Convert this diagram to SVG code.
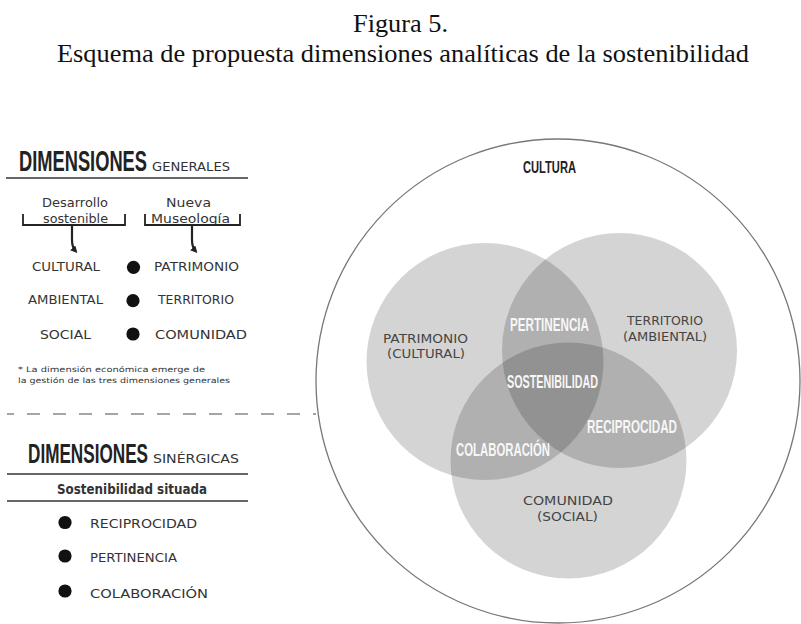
<svg xmlns="http://www.w3.org/2000/svg" width="801" height="624" viewBox="0 0 801 624">
<style>
.title{font-family:"Liberation Serif","Times New Roman",serif;font-size:26px;fill:#111}
.cond{font-family:"Liberation Sans",Arial,sans-serif;font-weight:bold}
.big{fill:#222;font-size:30px}
.big2{fill:#222;font-size:28px}
.geo{font-family:"DejaVu Sans","Liberation Sans",sans-serif;fill:#333}
.lbl{font-size:12.5px}
.sub{font-size:11.5px;fill:#333}
.note{font-size:7.5px}
.vl{font-family:"DejaVu Sans","Liberation Sans",sans-serif;fill:#444;font-size:13px}
.wl{fill:#f7f7f7;font-size:19px}
.dot{fill:#111}
.venn{fill:#000;fill-opacity:0.17}
.rule{stroke:#333;stroke-width:1.7}
.brk{fill:none;stroke:#222;stroke-width:1.8}
.arr{fill:none;stroke:#222;stroke-width:2.2}
</style>
<defs>
<marker id="ah" viewBox="0 0 10 10" refX="6" refY="5" markerWidth="3.2" markerHeight="3.2" orient="auto">
<path d="M0,0 L10,5 L0,10 z" fill="#222"/>
</marker>
</defs>
<rect width="801" height="624" fill="#fff"/>

<g id="title">
<text class="title" x="400.5" y="32" text-anchor="middle" textLength="95" lengthAdjust="spacingAndGlyphs">Figura 5.</text>
<text class="title" x="57" y="62" textLength="692" lengthAdjust="spacingAndGlyphs">Esquema de propuesta dimensiones analíticas de la sostenibilidad</text>
</g>

<g id="dim-generales">
<text class="cond big" transform="translate(19,171) scale(0.61,1)" textLength="209.8" lengthAdjust="spacingAndGlyphs">DIMENSIONES</text>
<text class="geo sub" x="152" y="171" textLength="78" lengthAdjust="spacingAndGlyphs">GENERALES</text>
<line class="rule" x1="6" y1="178" x2="248" y2="178"/>
</g>

<g id="desarrollo">
<text class="geo lbl" x="42" y="207" textLength="66" lengthAdjust="spacingAndGlyphs">Desarrollo</text>
<text class="geo lbl" x="43" y="222.5" textLength="65" lengthAdjust="spacingAndGlyphs">sostenible</text>
<path class="brk" d="M23,214 V225 H125 V214"/>
</g>
<g id="nueva-museologia">
<text class="geo lbl" x="166" y="207" textLength="45" lengthAdjust="spacingAndGlyphs">Nueva</text>
<text class="geo lbl" x="151" y="222.5" textLength="79" lengthAdjust="spacingAndGlyphs">Museología</text>
<path class="brk" d="M145,214 V225 H240 V214"/>
</g>

<g id="connectors">
<path class="arr" d="M72,225 V240 Q72,247 75.5,251" marker-end="url(#ah)"/>
<path class="arr" d="M192,225 V240 Q192,247 195.5,251" marker-end="url(#ah)"/>
<line x1="7" y1="414" x2="316" y2="414" stroke="#888" stroke-width="1.4" stroke-dasharray="13 13" stroke-dashoffset="6"/>
</g>

<g id="row-cultural">
<text class="geo lbl" x="32" y="271" textLength="68" lengthAdjust="spacingAndGlyphs">CULTURAL</text>
<circle class="dot" cx="133.5" cy="267.3" r="6.6"/>
<text class="geo lbl" x="154" y="271" textLength="85" lengthAdjust="spacingAndGlyphs">PATRIMONIO</text>
</g>
<g id="row-ambiental">
<text class="geo lbl" x="28" y="304.3" textLength="75" lengthAdjust="spacingAndGlyphs">AMBIENTAL</text>
<circle class="dot" cx="133" cy="300.7" r="6.6"/>
<text class="geo lbl" x="158" y="304.3" textLength="76" lengthAdjust="spacingAndGlyphs">TERRITORIO</text>
</g>
<g id="row-social">
<text class="geo lbl" x="40" y="339" textLength="51" lengthAdjust="spacingAndGlyphs">SOCIAL</text>
<circle class="dot" cx="133" cy="334" r="6.6"/>
<text class="geo lbl" x="155" y="339" textLength="92" lengthAdjust="spacingAndGlyphs">COMUNIDAD</text>
</g>

<g id="nota">
<text class="geo note" x="18" y="371.8" textLength="187" lengthAdjust="spacingAndGlyphs">* La dimensión económica emerge de</text>
<text class="geo note" x="18" y="383.3" textLength="212" lengthAdjust="spacingAndGlyphs">la gestión de las tres dimensiones generales</text>
</g>

<g id="dim-sinergicas">
<text class="cond big2" transform="translate(28,463) scale(0.612,1)" textLength="196.1" lengthAdjust="spacingAndGlyphs">DIMENSIONES</text>
<text class="geo sub" x="153" y="463" textLength="86" lengthAdjust="spacingAndGlyphs">SINÉRGICAS</text>
<line class="rule" x1="7" y1="474" x2="248" y2="474"/>
<text class="geo" x="57" y="494" font-size="14" font-weight="bold" fill="#222" textLength="150" lengthAdjust="spacingAndGlyphs">Sostenibilidad situada</text>
<line class="rule" x1="7" y1="501" x2="248" y2="501"/>
</g>
<g id="item-reciprocidad">
<circle class="dot" cx="65" cy="522.5" r="6.6"/>
<text class="geo lbl" x="90" y="527.7" fill="#444" textLength="107" lengthAdjust="spacingAndGlyphs">RECIPROCIDAD</text>
</g>
<g id="item-pertinencia">
<circle class="dot" cx="65" cy="556" r="6.6"/>
<text class="geo lbl" x="90" y="562.3" fill="#444" textLength="87" lengthAdjust="spacingAndGlyphs">PERTINENCIA</text>
</g>
<g id="item-colaboracion">
<circle class="dot" cx="65" cy="591" r="6.6"/>
<text class="geo lbl" x="90" y="597.7" fill="#444" textLength="118" lengthAdjust="spacingAndGlyphs">COLABORACIÓN</text>
</g>

<g id="cultura">
<circle cx="558" cy="381" r="242" fill="none" stroke="#777" stroke-width="1.3"/>
<text class="cond" transform="translate(523,173) scale(0.665,1)" font-size="16.5" fill="#222" textLength="79.7" lengthAdjust="spacingAndGlyphs">CULTURA</text>
</g>

<g id="patrimonio">
<circle class="venn" cx="485" cy="361.5" r="118.5"/>
<text class="vl" x="383" y="342.7" textLength="85" lengthAdjust="spacingAndGlyphs">PATRIMONIO</text>
<text class="vl" x="387" y="357.7" textLength="78" lengthAdjust="spacingAndGlyphs">(CULTURAL)</text>
</g>
<g id="territorio">
<circle class="venn" cx="619.5" cy="350.5" r="117.5"/>
<text class="vl" x="627" y="325" textLength="76" lengthAdjust="spacingAndGlyphs">TERRITORIO</text>
<text class="vl" x="623" y="340.7" textLength="84" lengthAdjust="spacingAndGlyphs">(AMBIENTAL)</text>
</g>
<g id="comunidad">
<circle class="venn" cx="568.5" cy="460.5" r="118"/>
<text class="vl" x="523" y="505" textLength="90" lengthAdjust="spacingAndGlyphs">COMUNIDAD</text>
<text class="vl" x="537" y="521" textLength="61" lengthAdjust="spacingAndGlyphs">(SOCIAL)</text>
</g>

<g id="intersecciones">
<text class="cond wl" transform="translate(510,331) scale(0.613,1)" textLength="128.9" lengthAdjust="spacingAndGlyphs">PERTINENCIA</text>
<text class="cond wl" transform="translate(507,388) scale(0.567,1)" textLength="160.5" lengthAdjust="spacingAndGlyphs">SOSTENIBILIDAD</text>
<text class="cond wl" transform="translate(587,433) scale(0.594,1)" textLength="151.5" lengthAdjust="spacingAndGlyphs">RECIPROCIDAD</text>
<text class="cond wl" transform="translate(456,456) scale(0.584,1)" textLength="161" lengthAdjust="spacingAndGlyphs">COLABORACIÓN</text>
</g>
</svg>
